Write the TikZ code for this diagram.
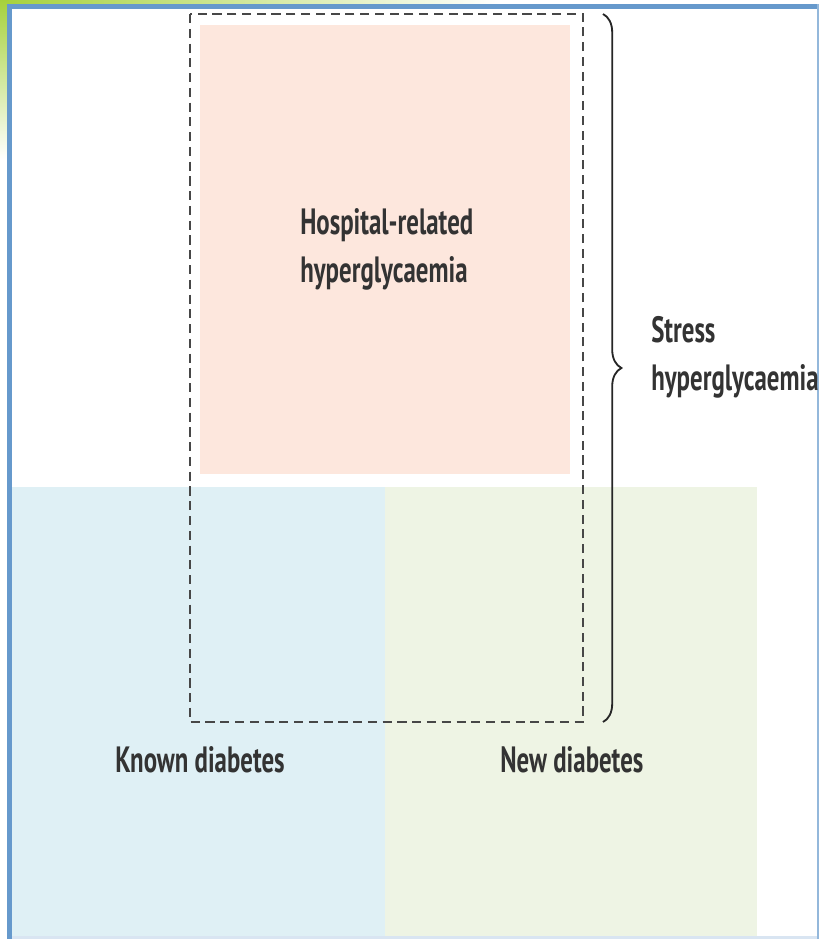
\documentclass[tikz,border=0pt]{standalone}
\usepackage{fontspec}
\setmainfont[FakeStretch=0.68]{PT Sans}
\usetikzlibrary{decorations.pathreplacing}

\definecolor{framecol}{HTML}{6699CC}
\definecolor{leafgreen}{HTML}{A6D13C}
\definecolor{hospcol}{HTML}{FDE7DD}
\definecolor{knowncol}{HTML}{DFF0F5}
\definecolor{newcol}{HTML}{EEF4E4}
\definecolor{inkcol}{HTML}{333333}

\tikzset{
  label text/.style={inner sep=0pt, align=left, text=inkcol,
    font=\fontsize{26}{34}\selectfont\bfseries},
  hosp zone/.style={dash pattern=on 6.5pt off 4pt, line width=2pt, draw=black!72},
  stress brace/.style={decorate, decoration={brace, amplitude=0.46cm}, line width=1.3pt, draw=black!85},
}

\begin{document}
\begin{tikzpicture}[x=0.025cm, y=-0.025cm]
	\useasboundingbox (0,0) rectangle (819,939);
	% page background and corner tint
	\fill [white] (0,0) rectangle (819,939);
	\shade [left color=leafgreen, right color=white] (0,0) rectangle (500,5);
	\shade [top color=leafgreen, bottom color=white] (0,0) rectangle (8,160);
	% frame
	\fill [framecol] (7,4) rectangle (819,9);
	\fill [framecol] (7,4) rectangle (12,939);
	\fill [framecol!70] (817,4) rectangle (819,939);
	\fill [framecol!25] (12,936) rectangle (817,939);
	% coloured zones
	\fill [hospcol] (200,25) rectangle (570,474);
	\fill [knowncol] (12,487) rectangle (385,936);
	\fill [newcol] (385,487) rectangle (757,936);
	% dashed hospital zone
	\draw [hosp zone] (190,14) rectangle (583,722);
	% brace
	\coordinate (braceTop) at (603,14);
	\coordinate (braceBot) at (603,722);
	\draw [stress brace] (braceTop) -- (braceBot);
	% labels
	\node [label text, anchor=west] (hosp) at (300,249) {Hospital-related\\hyperglycaemia};
	\node [label text, anchor=west] (stress) at (651,357) {Stress\\hyperglycaemia};
	\node [label text, anchor=west] (known) at (115,760) {Known diabetes};
	\node [label text, anchor=west] (new) at (500,760) {New diabetes};
\end{tikzpicture}
\end{document}
